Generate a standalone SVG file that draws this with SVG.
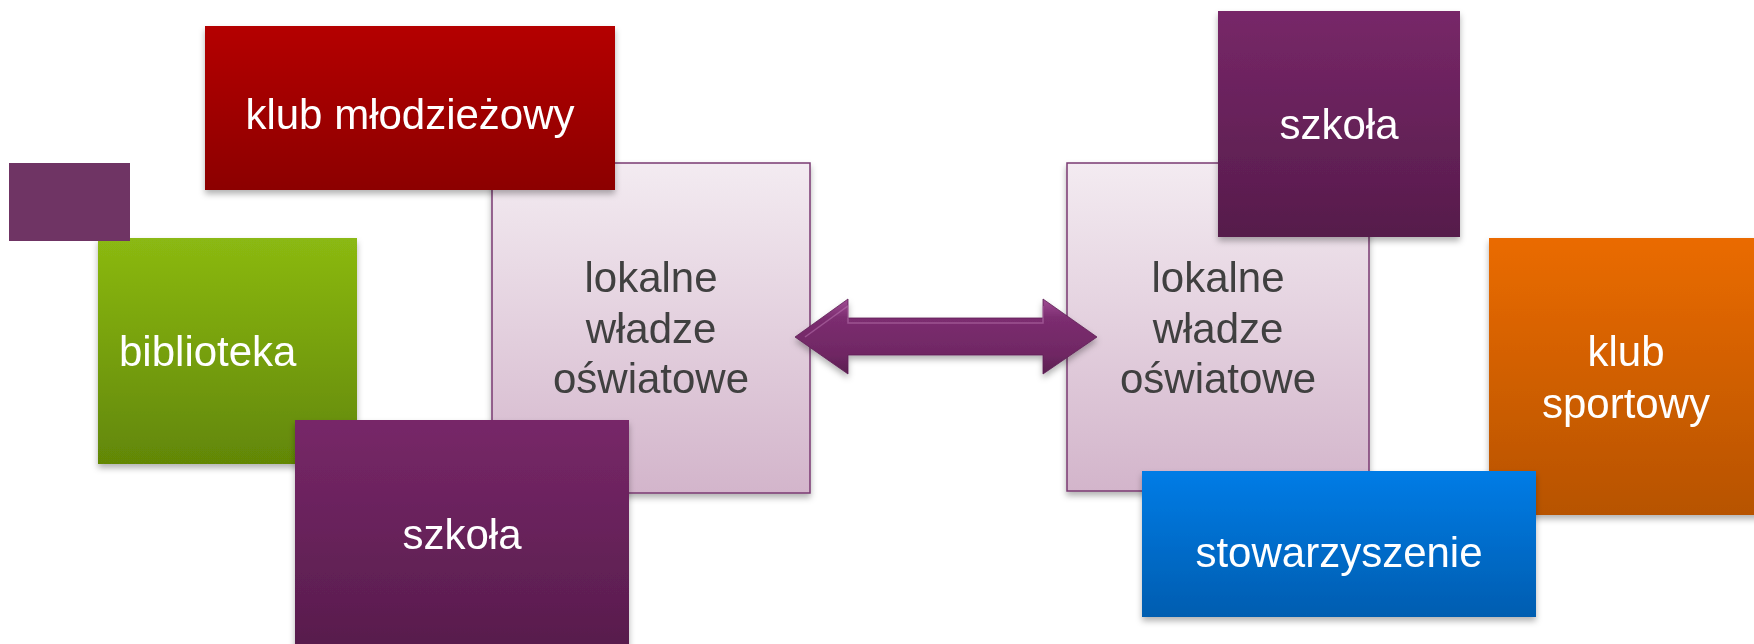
<svg xmlns="http://www.w3.org/2000/svg" width="1754" height="644" viewBox="0 0 1754 644">
<style>
text{font-family:"Liberation Sans",Arial,sans-serif;font-size:42px;text-anchor:middle}
.w{fill:#ffffff}
.d{fill:#404040}
.lk{stroke:#7a3a72;stroke-width:1.5}
</style>
<defs>
<linearGradient id="gRed" x1="0" y1="0" x2="0" y2="1"><stop offset="0" stop-color="#b40000"/><stop offset="1" stop-color="#8c0000"/></linearGradient>
<linearGradient id="gGreen" x1="0" y1="0" x2="0" y2="1"><stop offset="0" stop-color="#8bb912"/><stop offset="1" stop-color="#628706"/></linearGradient>
<linearGradient id="gPur" x1="0" y1="0" x2="0" y2="1"><stop offset="0" stop-color="#772768"/><stop offset="1" stop-color="#561c4b"/></linearGradient>
<linearGradient id="gLk" x1="0" y1="0" x2="0" y2="1"><stop offset="0" stop-color="#f3ebf1"/><stop offset="1" stop-color="#d3b5cb"/></linearGradient>
<linearGradient id="gOr" x1="0" y1="0" x2="0" y2="1"><stop offset="0" stop-color="#ea6b00"/><stop offset="1" stop-color="#b75300"/></linearGradient>
<linearGradient id="gBl" x1="0" y1="0" x2="0" y2="1"><stop offset="0" stop-color="#007ce6"/><stop offset="1" stop-color="#005db0"/></linearGradient>
<linearGradient id="gArr" x1="0" y1="0" x2="0" y2="1"><stop offset="0" stop-color="#a04d94"/><stop offset="0.25" stop-color="#7c2d70"/><stop offset="0.75" stop-color="#6f2763"/><stop offset="1" stop-color="#5a1e50"/></linearGradient>
<filter id="sh" x="-10%" y="-10%" width="120%" height="130%"><feDropShadow dx="0" dy="4" stdDeviation="3" flood-color="#000" flood-opacity="0.3"/></filter>
</defs>

<g id="left-lokalne" filter="url(#sh)">
<rect x="492" y="163" width="318" height="330" fill="url(#gLk)" class="lk"/>
<text class="d" x="651" y="292">lokalne</text>
<text class="d" x="651" y="343">władze</text>
<text class="d" x="651" y="393">oświatowe</text>
</g>
<g id="right-lokalne" filter="url(#sh)">
<rect x="1067" y="163" width="302" height="328" fill="url(#gLk)" class="lk"/>
<text class="d" x="1218" y="292">lokalne</text>
<text class="d" x="1218" y="343">władze</text>
<text class="d" x="1218" y="393">oświatowe</text>
</g>
<g id="klub-mlodziezowy" filter="url(#sh)">
<rect x="205" y="26" width="410" height="164" fill="url(#gRed)"/>
<text class="w" x="410" y="129">klub młodzieżowy</text>
</g>
<g id="biblioteka" filter="url(#sh)">
<rect x="98" y="238" width="259" height="226" fill="url(#gGreen)"/>
<text class="w" x="119" y="366" style="text-anchor:start">biblioteka</text>
</g>
<g id="kwadrat">
<rect x="9" y="163" width="121" height="78" fill="#6f3464"/>
</g>
<g id="szkola-lewa" filter="url(#sh)">
<rect x="295" y="420" width="334" height="240" fill="url(#gPur)"/>
<text class="w" x="462" y="549">szkoła</text>
</g>
<g id="szkola-prawa" filter="url(#sh)">
<rect x="1218" y="11" width="242" height="226" fill="url(#gPur)"/>
<text class="w" x="1339" y="139">szkoła</text>
</g>
<g id="klub-sportowy" filter="url(#sh)">
<rect x="1489" y="238" width="280" height="277" fill="url(#gOr)"/>
<text class="w" x="1626" y="366">klub</text>
<text class="w" x="1626" y="418">sportowy</text>
</g>
<g id="stowarzyszenie" filter="url(#sh)">
<rect x="1142" y="471" width="394" height="146" fill="url(#gBl)"/>
<text class="w" x="1339" y="567">stowarzyszenie</text>
</g>

<g id="connectors" filter="url(#sh)">
<path d="M795,337 L848,299 L848,318 L1043,318 L1043,299 L1097,337 L1043,374 L1043,355 L848,355 L848,374 Z" fill="url(#gArr)" stroke="#5e2056" stroke-width="0.8"/>
<path d="M805,337 L848,306 L848,323 L1043,323 L1043,306" fill="none" stroke="#c07ab5" stroke-opacity="0.5" stroke-width="1.5"/>
</g>
</svg>
